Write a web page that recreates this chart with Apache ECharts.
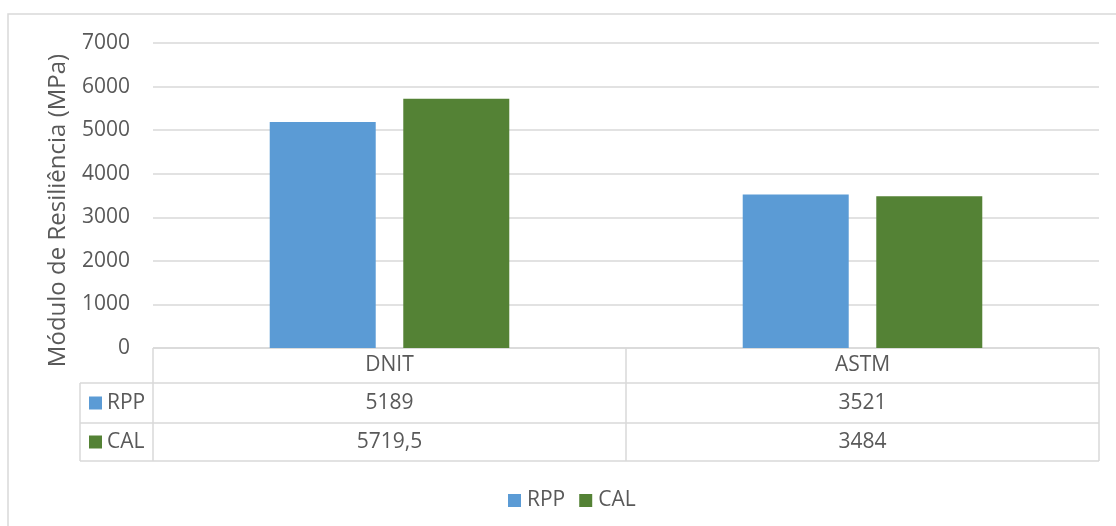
<!DOCTYPE html>
<html>
<head>
<meta charset="utf-8">
<script src="https://cdn.jsdelivr.net/npm/echarts@6/dist/echarts.min.js"></script>
<style>
html,body{margin:0;padding:0;background:#fff;}
#chart{width:1116px;height:526px;}
</style>
</head>
<body>
<div id="chart"></div>
<script>
const categories = ['DNIT', 'ASTM'];
const seriesNames = ['RPP', 'CAL'];
const rppValues = [5189, 3521];
const calValues = [5719.5, 3484];
const yMin = 0, yMax = 7000, yInterval = 1000;
const yAxisTitle = 'Módulo de Resiliência (MPa)';

const colors = ['#5B9BD5', '#548235'];
const FONT = 'Open Sans';
const FS = 21;
const TXT = '#595959';
const LINE = '#d9d9d9';

const chart = echarts.init(document.getElementById('chart'), null, {renderer: 'canvas'});
const seriesData = [rppValues, calValues];

const option = {
  animation: false,
  backgroundColor: '#fff',
  textStyle: {fontFamily: FONT},
  grid: {left: 153, right: 17, top: 43, bottom: 178},
  xAxis: {
    type: 'category',
    data: categories,
    axisLine: {show: false},
    axisTick: {show: false},
    axisLabel: {show: false},
    splitLine: {show: false}
  },
  yAxis: {
    type: 'value',
    min: yMin, max: yMax, interval: yInterval,
    name: yAxisTitle,
    nameLocation: 'middle',
    nameGap: 83,
    nameRotate: 90,
    nameTextStyle: {fontFamily: FONT, fontSize: 24, color: TXT, padding: [0, 0, 0, -30]},
    axisLine: {show: false},
    axisTick: {show: false},
    axisLabel: {fontFamily: FONT, fontSize: FS, color: TXT, margin: 23, formatter: v => String(v)},
    splitLine: {lineStyle: {color: LINE, width: 1.5}}
  },
  legend: {
    data: seriesNames,
    left: 503, top: 485,
    icon: 'rect', itemWidth: 13, itemHeight: 13, itemGap: 14,
    textStyle: {fontFamily: FONT, fontSize: FS, color: TXT, padding: [0, 0, 0, 1]}
  },
  series: seriesNames.map((n, i) => ({
    name: n,
    type: 'bar',
    data: seriesData[i],
    barWidth: 106,
    barGap: '26%',
    itemStyle: {color: colors[i]}
  }))
};
chart.setOption(option);

// Data table drawn beneath the plot, positioned from the category axis
const c0 = chart.convertToPixel({xAxisIndex: 0}, 0);
const c1 = chart.convertToPixel({xAxisIndex: 0}, 1);
const bandW = c1 - c0;
const tableTop = chart.convertToPixel({yAxisIndex: 0}, 0);
const rowY = [tableTop, tableTop + 35, tableTop + 75, tableTop + 113];
const colX = [80, c0 - bandW / 2, c0 + bandW / 2, c1 + bandW / 2];
const g = [];
const ls = {stroke: LINE, lineWidth: 1.5};
// outer border
g.push({type: 'rect', shape: {x: 8, y: 14, width: 1300, height: 800}, style: {fill: 'none', stroke: LINE, lineWidth: 1.5}, silent: true});
// horizontal lines
g.push({type: 'line', shape: {x1: colX[1], y1: rowY[0], x2: colX[3], y2: rowY[0]}, style: ls});
for (let r = 1; r < 4; r++) g.push({type: 'line', shape: {x1: colX[0], y1: rowY[r], x2: colX[3], y2: rowY[r]}, style: ls});
// vertical lines
g.push({type: 'line', shape: {x1: colX[0], y1: rowY[1], x2: colX[0], y2: rowY[3]}, style: ls});
for (let c = 1; c < 4; c++) g.push({type: 'line', shape: {x1: colX[c], y1: rowY[0], x2: colX[c], y2: rowY[3]}, style: ls});
const fmt = v => String(v).replace('.', ',');
categories.forEach((cat, j) => {
  const cx = (colX[j + 1] + colX[j + 2]) / 2;
  g.push({type: 'text', x: cx, y: (rowY[0] + rowY[1]) / 2, style: {text: cat, fill: TXT, font: FS + 'px "' + FONT + '"', textAlign: 'center', textVerticalAlign: 'middle'}});
  seriesData.forEach((arr, i) => {
    g.push({type: 'text', x: cx, y: (rowY[i + 1] + rowY[i + 2]) / 2, style: {text: fmt(arr[j]), fill: TXT, font: FS + 'px "' + FONT + '"', textAlign: 'center', textVerticalAlign: 'middle'}});
  });
});
seriesNames.forEach((n, i) => {
  const cy = (rowY[i + 1] + rowY[i + 2]) / 2;
  g.push({type: 'rect', shape: {x: 89, y: cy - 6.5, width: 13, height: 13}, style: {fill: colors[i]}});
  g.push({type: 'text', x: 107, y: cy, style: {text: n, fill: TXT, font: FS + 'px "' + FONT + '"', textAlign: 'left', textVerticalAlign: 'middle'}});
});
chart.setOption({graphic: g});
</script>
</body>
</html>
